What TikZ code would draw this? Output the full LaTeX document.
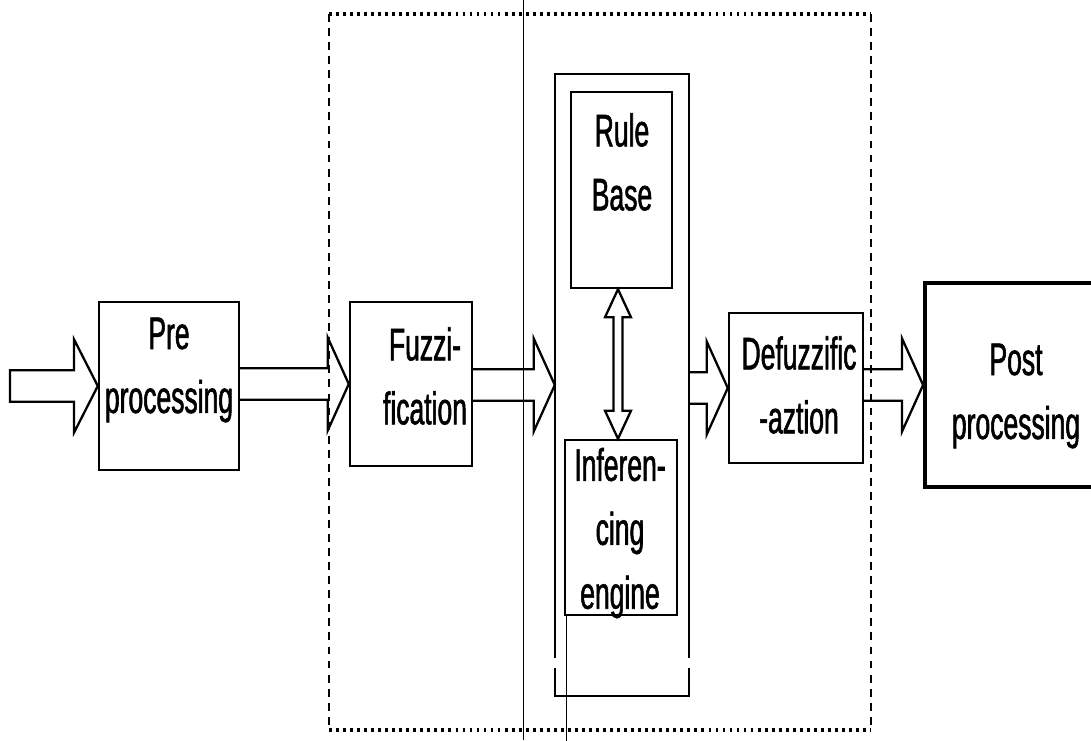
\documentclass[tikz,border=0pt]{standalone}
\usepackage{fontspec}
\setmainfont{Liberation Sans}[FakeStretch=0.58, FakeBold=1.2]
\usetikzlibrary{calc}

\tikzset{
  blockbox/.style 2 args={draw, line width=1.4pt, inner sep=0pt,
    minimum width=#1cm, minimum height=#2cm},
  lbl/.style={align=center, inner sep=0pt,
    font=\fontsize{26}{36.4}\selectfont},
  arrowline/.style={line width=1.3pt, line join=miter},
  dotline/.style={line width=1.8pt, dash pattern=on 1.6pt off 2.4pt},
  dashline/.style={line width=1.4pt, dash pattern=on 4.5pt off 3.5pt},
  hairline/.style={line width=0.4pt}
}

% hollow block arrow from one node side to the other
\newcommand{\fatarrow}[2]{%
  \draw[arrowline] let \p1=(#1), \p2=(#2) in
    (\x1,\y2+9pt) -- (\x2-12pt,\y2+9pt) -- (\x2-12pt,\y2+26.5pt) -- (\x2,\y2)
    -- (\x2-12pt,\y2-26.5pt) -- (\x2-12pt,\y2-9pt) -- (\x1,\y2-9pt);}

\begin{document}
\begin{tikzpicture}[x=0.02cm, y=-0.02cm]

\clip (0,0) rectangle (1091,740);
\fill[white] (0,0) rectangle (1091,740);

% fuzzy controller frame
\draw[dotline] (329,14) -- (871,14);
\draw[dotline] (329,730) -- (871,730);
\draw[dashline] (329,14) -- (329,730);
\draw[dashline] (871,14) -- (871,730);
\draw[hairline] (523,0) -- (523,740);

% boxes
\node[blockbox={2.80}{3.36}] (pre) at (169,386) {};
\node[blockbox={2.44}{3.28}] (fuz) at (411,384) {};
\node[blockbox={2.64}{12.4}, draw=none] (infout) at (622,385) {};
\node[blockbox={2.02}{3.92}] (rule) at (621.5,190) {};
\node[blockbox={2.24}{3.50}] (inf) at (621,527.5) {};
\node[blockbox={2.68}{3.00}] (def) at (796,388) {};
\node[blockbox={3.50}{4.08}, line width=2.2pt] (post) at (1012.5,385) {};

% outer inference box, broken near the bottom
\coordinate (gapA) at (0,658);
\coordinate (gapB) at (0,668);
\draw[line width=1.4pt] (infout.west |- gapA) -- (infout.north west)
  -- (infout.north east) -- (infout.east |- gapA);
\draw[line width=1.4pt] (infout.west |- gapB) -- (infout.south west)
  -- (infout.south east) -- (infout.east |- gapB);
\draw[hairline] ([xshift=1.5pt]inf.south west) -- ++(0,140);

% labels
\node[lbl] (pretxt) at (169,370) {Pre\\processing};
\node[lbl] (fuztxt) at (425,376) {Fuzzi-\\fication};
\node[lbl] (ruletxt) at (622,162) {Rule\\Base};
\node[lbl] (inftxt) at (620,533) {Inferen-\\cing\\engine};
\node[lbl] (deftxt) at (799,385) {Defuzzific\\-aztion};
\node[lbl] (posttxt) at (1016,396) {Post\\processing};

% arrows
\coordinate (inp) at (10,386);
\draw[arrowline] let \p1=(inp), \p2=(pre.west) in
  (\x1,\y2+9pt) -- (\x2-13.5pt,\y2+9pt) -- (\x2-13.5pt,\y2+26.5pt) -- (\x2,\y2)
  -- (\x2-13.5pt,\y2-26.5pt) -- (\x2-13.5pt,\y2-9pt) -- (\x1,\y2-9pt) -- cycle;
\fatarrow{pre.east}{fuz.west}
\fatarrow{fuz.east}{infout.west}
\fatarrow{infout.east}{def.west}
\fatarrow{def.east}{post.west}

% rule base <-> inference engine
\draw[arrowline] let \p1=(rule.south), \p2=(inf.north) in
  (\x1-2pt,\y1) -- (\x1+5.4pt,\y1-16pt) -- (\x1+0.6pt,\y1-16pt)
  -- (\x1+0.6pt,\y2+16pt) -- (\x1+5.4pt,\y2+16pt) -- (\x1-2pt,\y2)
  -- (\x1-9.4pt,\y2+16pt) -- (\x1-4.6pt,\y2+16pt) -- (\x1-4.6pt,\y1-16pt)
  -- (\x1-9.4pt,\y1-16pt) -- cycle;

\end{tikzpicture}
\end{document}
